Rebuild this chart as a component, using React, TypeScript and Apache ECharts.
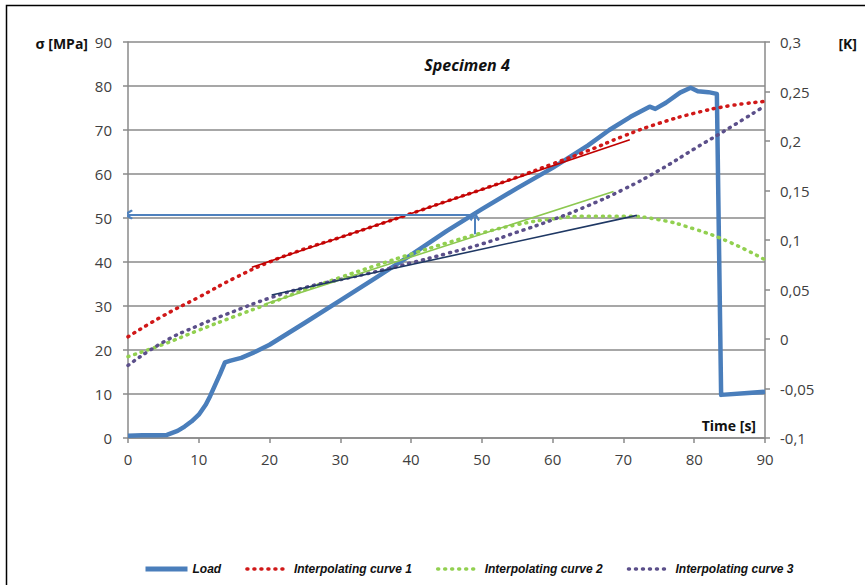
import React, { useEffect, useRef } from 'react';
import * as echarts from 'echarts';

// time stamps (s) for the interpolating curves
const timeSteps = [0, 5, 10, 15, 20, 25, 30, 35, 40, 45, 50, 55, 60, 65, 70, 75, 80, 85, 90];
const curve1 = [23, 27.8, 32, 36.3, 40, 43, 45.6, 48.3, 51, 53.8, 56.5, 59.3, 62.3, 65.3, 68.6, 71.5, 73.8, 75.5, 76.5];
const curve2 = [18.5, 21.3, 24.5, 27.6, 30.6, 33.7, 36.5, 39.2, 41.8, 44.3, 46.6, 48.5, 49.8, 50.4, 50.4, 49.6, 47.5, 44.5, 40.5];
const curve3 = [16.5, 21.8, 25.6, 28.8, 31.8, 34.2, 36, 37.8, 39.8, 41.9, 44.1, 46.8, 49.6, 52.8, 56.5, 60.8, 65.7, 70.5, 75.5];

// measured load [time, MPa]
const loadData: [number, number][] = [
  [0, 0.5], [2, 0.6], [4, 0.6], [5.5, 0.7], [7, 1.6], [8, 2.6], [9, 3.8], [10, 5.3],
  [11, 7.6], [11.6, 9.5], [12.3, 12], [13, 14.5], [13.7, 17.2], [14.5, 17.6], [16, 18.2],
  [18, 19.6], [20, 21.2], [25, 26.2], [30, 31.3], [35, 36.4], [40, 41.6], [45, 47],
  [50, 52], [55, 56.8], [60, 61.4], [65, 66.5], [68, 70], [71, 73], [73.7, 75.3],
  [74.5, 74.8], [76, 76.2], [78, 78.5], [79.5, 79.6], [80.5, 78.8], [82, 78.6],
  [83.2, 78.2], [83.8, 9.8], [90, 10.5],
];

// tangent lines
const tangent1: [number, number][] = [[17.5, 38.8], [70.9, 67.8]];
const tangent2: [number, number][] = [[19.5, 30.5], [68.6, 56]];
const tangent3: [number, number][] = [[20.3, 32.5], [71.9, 50.6]];

// arrows
const arrowH: [number, number][] = [[49, 50.8], [0, 50.8]];
const arrowV: [number, number][] = [[49, 46.3], [49, 50.4]];

const legendNames = ['Load', 'Interpolating curve 1', 'Interpolating curve 2', 'Interpolating curve 3'];

const FONT = 'Open Sans';
const GRAY = '#8a8a8a';
const BLUE = '#4a7ebb';
// open chevron, tip pointing up (rotated by the lines series)
const chevron = 'path://M0,12 L12,0 L24,12 L20.5,14.5 L12,6.5 L3.5,14.5 Z';

const pair = (vals: number[]) => timeSteps.map((t, i) => [t, vals[i]]);
const dots = (color: string) => ({ color, width: 3.5, type: [1, 6] as number[], cap: 'round' as const });

const App: React.FC = () => {
  const chartRef = useRef<HTMLDivElement>(null);

  useEffect(() => {
    if (!chartRef.current) return;
    const chart = echarts.init(chartRef.current, undefined, { renderer: 'svg' });

    const option: any = {
      animation: false,
      backgroundColor: '#fff',
      grid: { left: 128, right: 100, top: 42, bottom: 147, containLabel: false, outerBoundsMode: 'none' },
      legend: {
        data: [
          { name: legendNames[0], lineStyle: { width: 5, color: BLUE, type: 'solid' } },
          { name: legendNames[1], lineStyle: dots('#d01818') },
          { name: legendNames[2], lineStyle: dots('#92d050') },
          { name: legendNames[3], lineStyle: dots('#5b4f8a') },
        ],
        top: 558,
        left: 138,
        itemWidth: 42,
        itemHeight: 10,
        itemGap: 24,
        itemStyle: { opacity: 0 },
        textStyle: { fontFamily: 'Liberation Sans', fontSize: 12, fontWeight: 'bold', fontStyle: 'italic', color: '#111' },
      },
      xAxis: {
        type: 'value',
        min: 0,
        max: 90,
        interval: 10,
        axisLine: { show: true, lineStyle: { color: GRAY, width: 1.5 } },
        axisTick: { show: true, length: 5, lineStyle: { color: GRAY, width: 1.5 } },
        splitLine: { show: false },
        axisLabel: { color: '#404040', fontFamily: FONT, fontSize: 15, margin: 13 },
      },
      yAxis: [
        {
          type: 'value',
          min: 0,
          max: 90,
          interval: 10,
          axisLine: { show: true, lineStyle: { color: GRAY, width: 1.5 } },
          axisTick: { show: true, length: 5, lineStyle: { color: GRAY, width: 1.5 } },
          splitLine: { show: true, lineStyle: { color: GRAY, width: 1.5 } },
          axisLabel: { color: '#404040', fontFamily: FONT, fontSize: 15, margin: 16 },
        },
        {
          type: 'value',
          min: -0.1,
          max: 0.3,
          interval: 0.05,
          position: 'right',
          axisLine: { show: true, lineStyle: { color: GRAY, width: 1.5 } },
          axisTick: { show: true, length: 5, lineStyle: { color: GRAY, width: 1.5 } },
          splitLine: { show: false },
          axisLabel: {
            color: '#404040',
            fontFamily: FONT,
            fontSize: 15,
            margin: 15,
            formatter: (v: number) => String(parseFloat(v.toFixed(2))).replace('.', ','),
          },
        },
      ],
      series: [
        {
          name: 'Load',
          type: 'line',
          data: loadData,
          showSymbol: false,
          symbol: 'none',
          lineStyle: { color: BLUE, width: 4.5, join: 'round' },
          itemStyle: { color: BLUE },
          z: 3,
        },
        {
          name: 'Interpolating curve 1',
          type: 'line',
          data: pair(curve1),
          smooth: true,
          symbol: 'none',
          lineStyle: dots('#d01818'),
          itemStyle: { color: '#d01818' },
          z: 4,
        },
        {
          name: 'Interpolating curve 2',
          type: 'line',
          data: pair(curve2),
          smooth: true,
          symbol: 'none',
          lineStyle: dots('#92d050'),
          itemStyle: { color: '#92d050' },
          z: 4,
        },
        {
          name: 'Interpolating curve 3',
          type: 'line',
          data: pair(curve3),
          smooth: true,
          symbol: 'none',
          lineStyle: dots('#5b4f8a'),
          itemStyle: { color: '#5b4f8a' },
          z: 4,
        },
        {
          name: 'tangent 1',
          type: 'line',
          data: tangent1,
          symbol: 'none',
          lineStyle: { color: '#c00000', width: 1.6 },
          z: 5,
        },
        {
          name: 'tangent 2',
          type: 'line',
          data: tangent2,
          symbol: 'none',
          lineStyle: { color: '#8cc850', width: 1.6 },
          z: 5,
        },
        {
          name: 'tangent 3',
          type: 'line',
          data: tangent3,
          symbol: 'none',
          lineStyle: { color: '#1f3864', width: 1.6 },
          z: 5,
        },
        {
          name: 'arrows',
          type: 'lines',
          coordinateSystem: 'cartesian2d',
          symbol: ['none', chevron],
          symbolSize: [16, 10],
          lineStyle: { color: '#4f81bd', width: 2, opacity: 1 },
          itemStyle: { color: '#4f81bd' },
          data: [{ coords: arrowH }, { coords: arrowV }],
          z: 6,
        },
      ],
      graphic: [
        {
          type: 'rect',
          shape: { x: 6.5, y: 5.5, width: 1200, height: 1200 },
          style: { fill: 'none', stroke: '#000', lineWidth: 1.5 },
          silent: true,
        },
        {
          type: 'text',
          x: 88,
          y: 43,
          style: {
            text: 'σ [MPa]',
            align: 'right',
            verticalAlign: 'middle',
            font: `bold 14px "${FONT}"`,
            fill: '#111',
          },
        },
        {
          type: 'text',
          x: 857,
          y: 43,
          style: { text: '[K]', align: 'right', verticalAlign: 'middle', font: `bold 14px "${FONT}"`, fill: '#111' },
        },
        {
          type: 'text',
          x: 756,
          y: 425,
          style: { text: 'Time [s]', align: 'right', verticalAlign: 'middle', font: `bold 14px "${FONT}"`, fill: '#111' },
        },
        {
          type: 'text',
          x: 467,
          y: 65,
          style: {
            text: 'Specimen 4',
            align: 'center',
            verticalAlign: 'middle',
            font: `italic bold 16px "${FONT}"`,
            fill: '#111',
          },
        },
      ],
    };

    chart.setOption(option);
    return () => chart.dispose();
  }, []);

  return (
    <div
      ref={chartRef}
      style={{ position: 'fixed', left: 0, top: 0, width: 865, height: 585, background: '#fff' }}
    />
  );
};

export default App;
